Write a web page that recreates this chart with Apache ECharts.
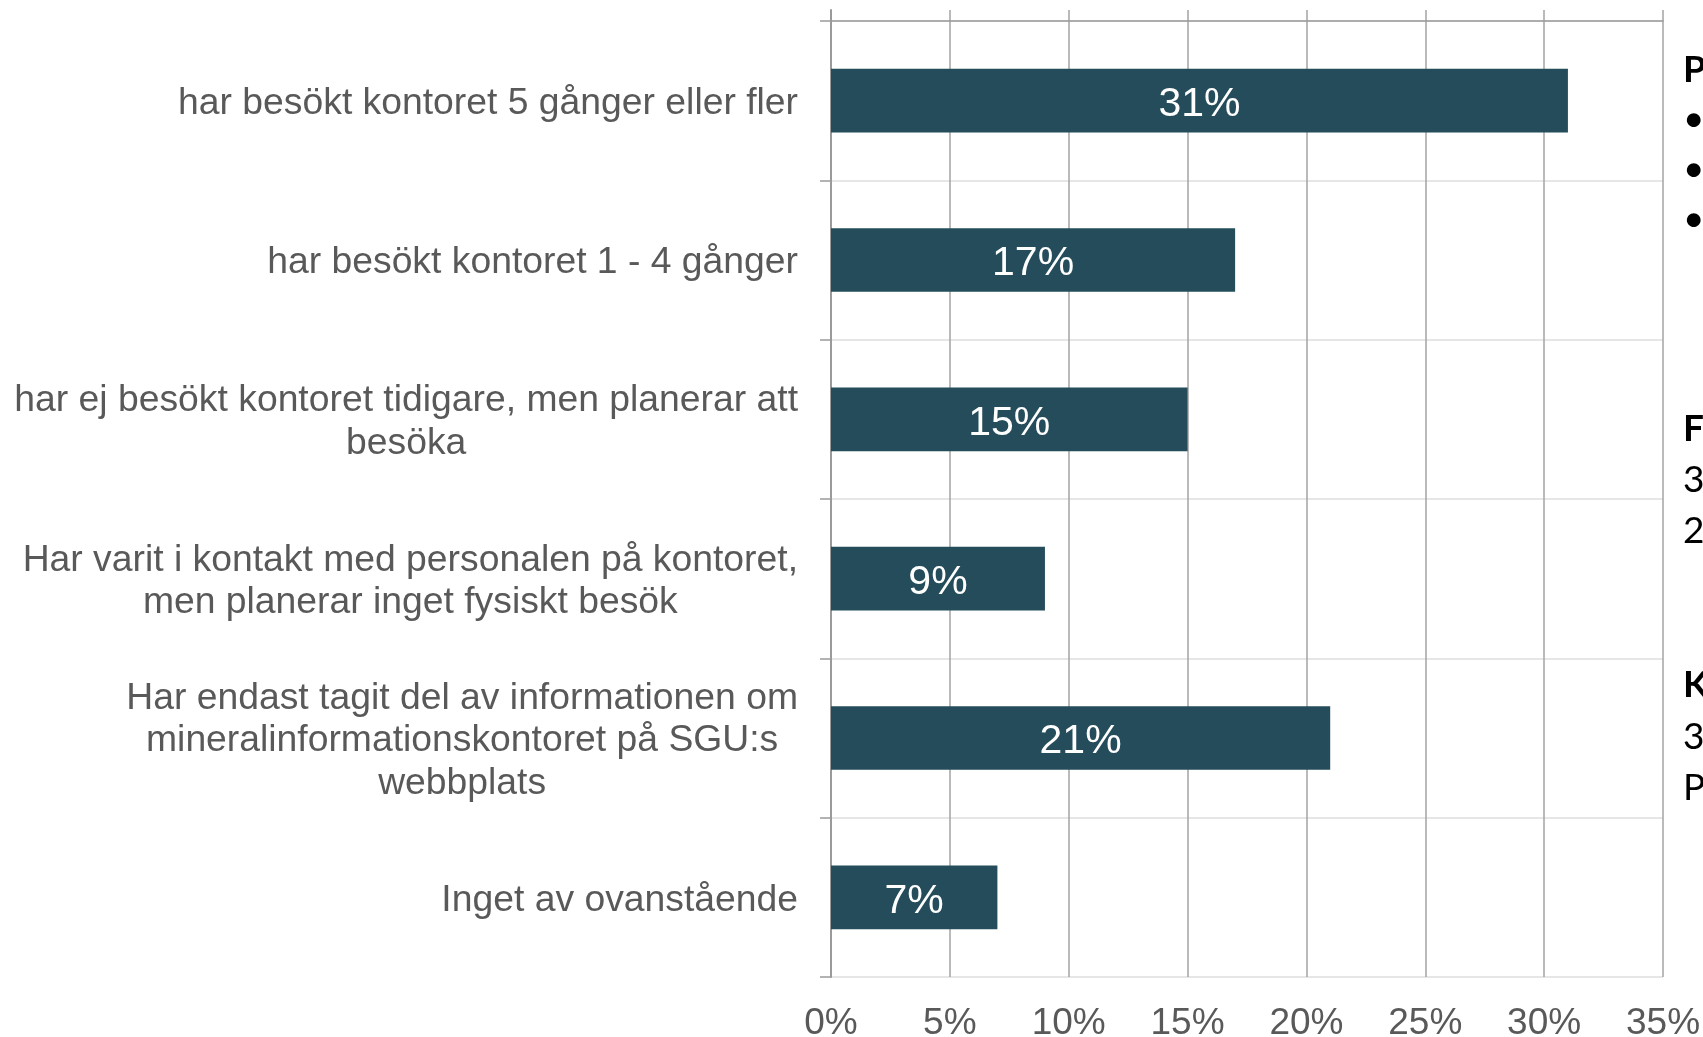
<!DOCTYPE html>
<html>
<head>
<meta charset="utf-8">
<script src="https://cdn.jsdelivr.net/npm/echarts@6/dist/echarts.min.js"></script>
<style>
html,body{margin:0;padding:0;background:#fff;}
#chart{width:1703px;height:1037px;}
</style>
</head>
<body>
<div id="chart"></div>
<script>
const categories = [
  'har besökt kontoret 5 gånger eller fler',
  'har besökt kontoret 1 - 4 gånger',
  'har ej besökt kontoret tidigare, men planerar att\nbesöka',
  'Har varit i kontakt med personalen på kontoret,\nmen planerar inget fysiskt besök',
  'Har endast tagit del av informationen om\nmineralinformationskontoret på SGU:s\nwebbplats',
  'Inget av ovanstående'
];
const values = [31, 17, 15, 9, 21, 7];
const axisMin = 0, axisMax = 35, axisStep = 5;

const sideTexts = [
  {t: 'P', y: 70, b: true}, {t: '•', y: 119}, {t: '•', y: 169}, {t: '•', y: 219},
  {t: 'F', y: 429, b: true}, {t: '3', y: 480}, {t: '2', y: 531},
  {t: 'K', y: 685, b: true}, {t: '3', y: 737}, {t: 'P', y: 788}
];

const FONT = '"Liberation Sans", Arial, sans-serif';
const GREY = '#595959';
const chart = echarts.init(document.getElementById('chart'), null, {renderer: 'canvas'});

chart.setOption({
  backgroundColor: '#ffffff',
  animation: false,
  grid: [
    {left: 831, right: 40, top: 21, bottom: 60, containLabel: false, outerBoundsMode: 'none'},
    {left: 831, right: 40, top: 10, bottom: 60, containLabel: false, outerBoundsMode: 'none'}
  ],
  xAxis: [
    {
      gridIndex: 0, type: 'value', position: 'bottom', min: axisMin, max: axisMax, interval: axisStep,
      axisLine: {show: false}, axisTick: {show: false}, splitLine: {show: false},
      axisLabel: {formatter: '{value}%', color: GREY, fontSize: 37, fontFamily: FONT, margin: 28}
    },
    {
      gridIndex: 0, type: 'value', position: 'top', min: axisMin, max: axisMax, interval: axisStep,
      axisLine: {show: true, lineStyle: {color: '#9a9a9a', width: 1.5}},
      axisTick: {show: false}, axisLabel: {show: false}, splitLine: {show: false}
    },
    {
      gridIndex: 1, type: 'value', position: 'bottom', min: axisMin, max: axisMax, interval: axisStep,
      axisLine: {show: false}, axisTick: {show: false}, axisLabel: {show: false},
      splitLine: {show: true, lineStyle: {color: '#a3a3a3', width: 1.5}}
    }
  ],
  yAxis: [
    {
      gridIndex: 0, type: 'category', inverse: true, data: categories,
      axisLine: {show: false},
      axisTick: {show: true, length: 11, lineStyle: {color: '#9a9a9a', width: 1.5}},
      splitLine: {show: true, lineStyle: {color: '#e6e6e6', width: 2}},
      axisLabel: {
        margin: 33,
        padding: [6, 0, 0, 0],
        formatter: function (v) {
          return v.split('\n').map(function (l) { return '{c|' + l + '}'; }).join('\n');
        },
        rich: {c: {fontSize: 37.3, lineHeight: 42.5, color: GREY, fontFamily: FONT, align: 'center'}}
      }
    },
    {
      gridIndex: 1, type: 'value', min: 0, max: 1,
      axisLine: {show: true, lineStyle: {color: '#9a9a9a', width: 2}},
      axisTick: {show: false}, axisLabel: {show: false}, splitLine: {show: false}
    }
  ],
  series: [{
    type: 'bar',
    xAxisIndex: 0, yAxisIndex: 0,
    data: values,
    barCategoryGap: '60%',
    itemStyle: {color: '#244C5A'},
    label: {
      show: true, position: 'inside', formatter: '{c}%', offset: [0, 4],
      color: '#ffffff', fontSize: 41, fontFamily: FONT
    },
    z: 5
  }],
  graphic: sideTexts.map(function (s) {
    return {
      type: 'text', x: 1683, y: s.y,
      style: {
        text: s.t, fontSize: 37, fontWeight: s.b ? 'bold' : 'normal',
        fontFamily: 'Lato, "Open Sans", sans-serif', fill: '#000000',
        verticalAlign: 'middle', align: 'left'
      }
    };
  })
});
</script>
</body>
</html>
